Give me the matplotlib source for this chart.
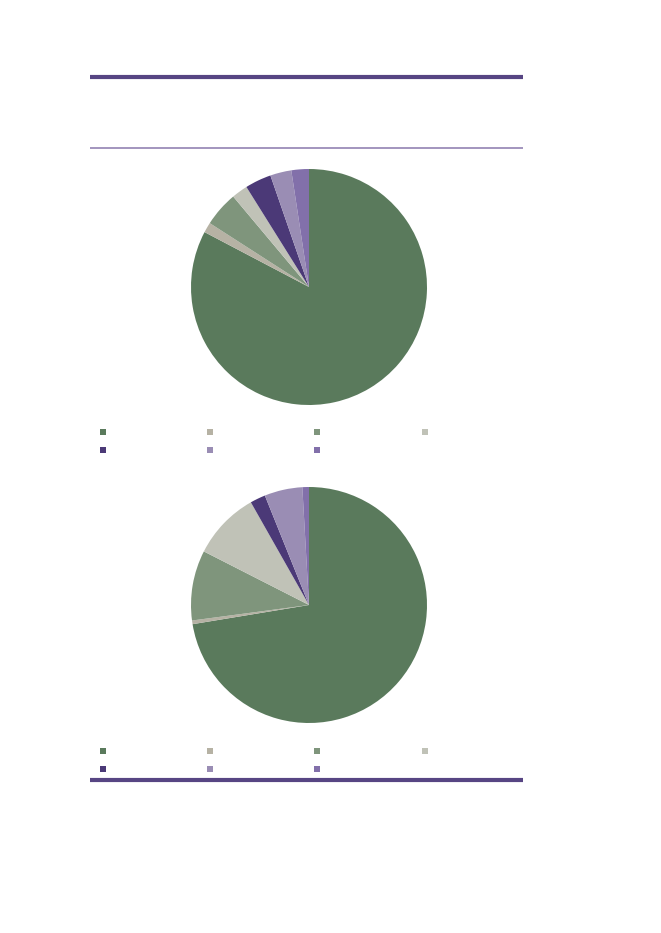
import matplotlib
matplotlib.use("Agg")
import matplotlib.pyplot as plt
from matplotlib.lines import Line2D

# slice shares (%), clockwise from 12 o'clock
categories = ["A", "B", "C", "D", "E", "F", "G"]
pie1_values = [82.7, 1.4, 4.8, 2.2, 3.6, 2.9, 2.4]
pie2_values = [72.4, 0.5, 9.6, 9.3, 2.1, 5.2, 0.9]
colors = ["#5a7a5c", "#b6b2a4", "#7f957c", "#c0c2b7", "#4b3977", "#9a8db4", "#8270aa"]

W, H = 661, 933
fig = plt.figure(figsize=(W / 100, H / 100), dpi=100)
fig.patch.set_facecolor("white")


def px_axes(left, top, w, h):
    return fig.add_axes([left / W, 1 - (top + h) / H, w / W, h / H])


def draw_pie(values, cx, cy, r, leg_top):
    ax = px_axes(cx - r, cy - r, 2 * r, 2 * r)
    ax.pie(values, colors=colors, startangle=90, counterclock=False,
           radius=1, wedgeprops=dict(linewidth=0))
    ax.set_xlim(-1, 1)
    ax.set_ylim(-1, 1)
    ax.set_aspect("auto")
    ax.axis("off")
    handles = [Line2D([], [], marker="s", linestyle="none", markersize=3.8,
                      markerfacecolor=c, markeredgewidth=0) for c in colors]
    # legend fills column by column; reorder so it reads row by row
    order = [0, 4, 1, 5, 2, 6, 3]
    fig.legend([handles[i] for i in order], ["" for i in order], ncol=4,
               frameon=False, loc="upper left",
               bbox_to_anchor=(94 / W, 1 - leg_top / H),
               fontsize=8, handlelength=0.6, handletextpad=0.0,
               columnspacing=9.05, labelspacing=0.75, borderpad=0)


# decorative rules
def hrule(y, lw, color):
    fig.add_artist(Line2D([90 / W, 523 / W], [1 - y / H, 1 - y / H],
                          linewidth=lw, color=color, solid_capstyle="butt"))


hrule(76.5, 3.0, "#574583")
hrule(147.5, 1.2, "#9283b3")
hrule(779.5, 3.0, "#574583")

draw_pie(pie1_values, 309, 287, 118, 422)
draw_pie(pie2_values, 309, 605, 118, 741)

fig.savefig("out.png", dpi=100, facecolor="white")
